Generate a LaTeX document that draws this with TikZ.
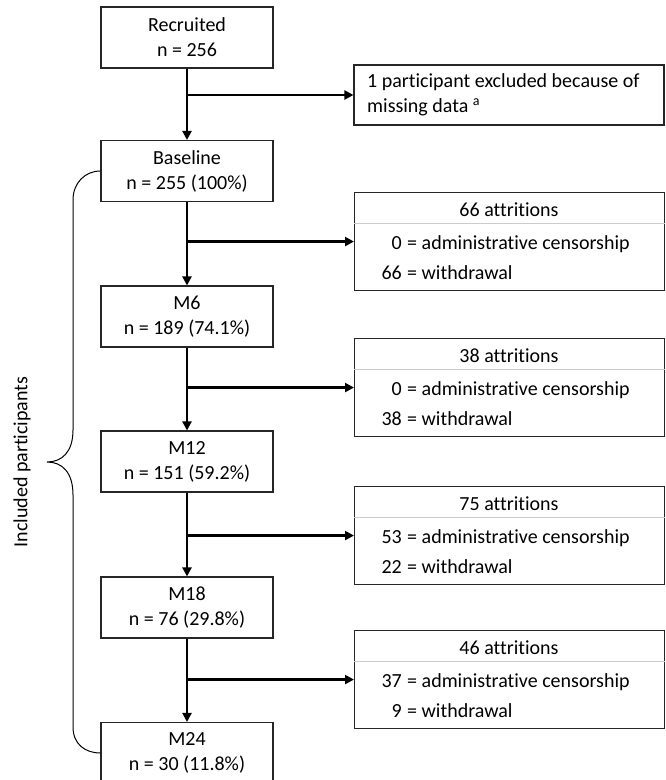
\documentclass[tikz,border=0pt]{standalone}
\usepackage{fontspec}
\setmainfont{Carlito}[Ligatures=NoCommon]
\usetikzlibrary{arrows.meta}
\begin{document}
\begin{tikzpicture}[x=1pt,y=-1pt,
  font=\fontsize{20}{25}\selectfont,
  mainbox/.style={draw=black!85, line width=1.1pt, minimum width=172pt, minimum height=61pt, align=center, inner sep=0pt},
  sidebox/.style={draw=black!85, line width=1.1pt, minimum width=310pt, inner sep=0pt},
  flow/.style={line width=2.2pt, -{Triangle[length=9pt,width=9pt]}},
  sep/.style={draw=black!20, line width=1pt},
  lbl/.style={inner sep=0pt},
  brace/.style={line width=1pt}]
\useasboundingbox (0,0) rectangle (666,780);

\node[mainbox] (rec) at (187,37.5) {Recruited\\n = 256};
\node[mainbox] (base) at (187,171) {Baseline\\n = 255 (100\%)};
\node[mainbox] (m6) at (187,316.5) {M6\\n = 189 (74.1\%)};
\node[mainbox] (m12) at (187,461.5) {M12\\n = 151 (59.2\%)};
\node[mainbox] (m18) at (187,607.5) {M18\\n = 76 (29.8\%)};
\node[mainbox] (m24) at (187,753) {M24\\n = 30 (11.8\%)};

\node[sidebox, minimum height=60pt] (exc) at (509,95) {};
\node[lbl, anchor=west, align=left] (exct) at (367,95) {1 participant excluded because of\\missing data \textsuperscript{a}};

\foreach \i/\T/\tot/\a/\w in {1/192/66/0/66, 2/338/38/0/38, 3/486/75/53/22, 4/630/46/37/9} {
  \node[sidebox, minimum height=98pt, anchor=north west] (att\i) at (354,\T) {};
  \draw[sep] ([yshift=-31pt]att\i.north west) -- ([yshift=-31pt]att\i.north east);
  \node[lbl, anchor=base] (title\i) at (509,\T+24) {\tot\ attritions};
  \node[lbl, anchor=base east] (na\i) at (402,\T+57) {\a};
  \node[lbl, anchor=base west] (ta\i) at (407,\T+57) {= administrative censorship};
  \node[lbl, anchor=base east] (nw\i) at (402,\T+87) {\w};
  \node[lbl, anchor=base west] (tw\i) at (407,\T+87) {= withdrawal};
}

\draw[flow] (rec) -- (base);
\draw[flow] (base) -- (m6);
\draw[flow] (m6) -- (m12);
\draw[flow] (m12) -- (m18);
\draw[flow] (m18) -- (m24);

\draw[flow] (rec.south |- exc.west) -- (exc.west);
\draw[flow] (base.south |- att1.west) -- (att1.west);
\draw[flow] (m6.south |- att2.west) -- (att2.west);
\draw[flow] (m12.south |- att3.west) -- (att3.west);
\draw[flow] (m18.south |- att4.west) -- (att4.west);

\draw[brace] (base.west) .. controls (85,171) and (73,183) .. (73,200) -- (73,430)
  .. controls (73,452) and (62,462) .. (47,462)
  .. controls (62,462) and (73,472) .. (73,495) -- (73,727)
  .. controls (73,744) and (85,753) .. (m24.west);

\node[rotate=90] (inc) at (22,462) {Included participants};
\end{tikzpicture}
\end{document}
